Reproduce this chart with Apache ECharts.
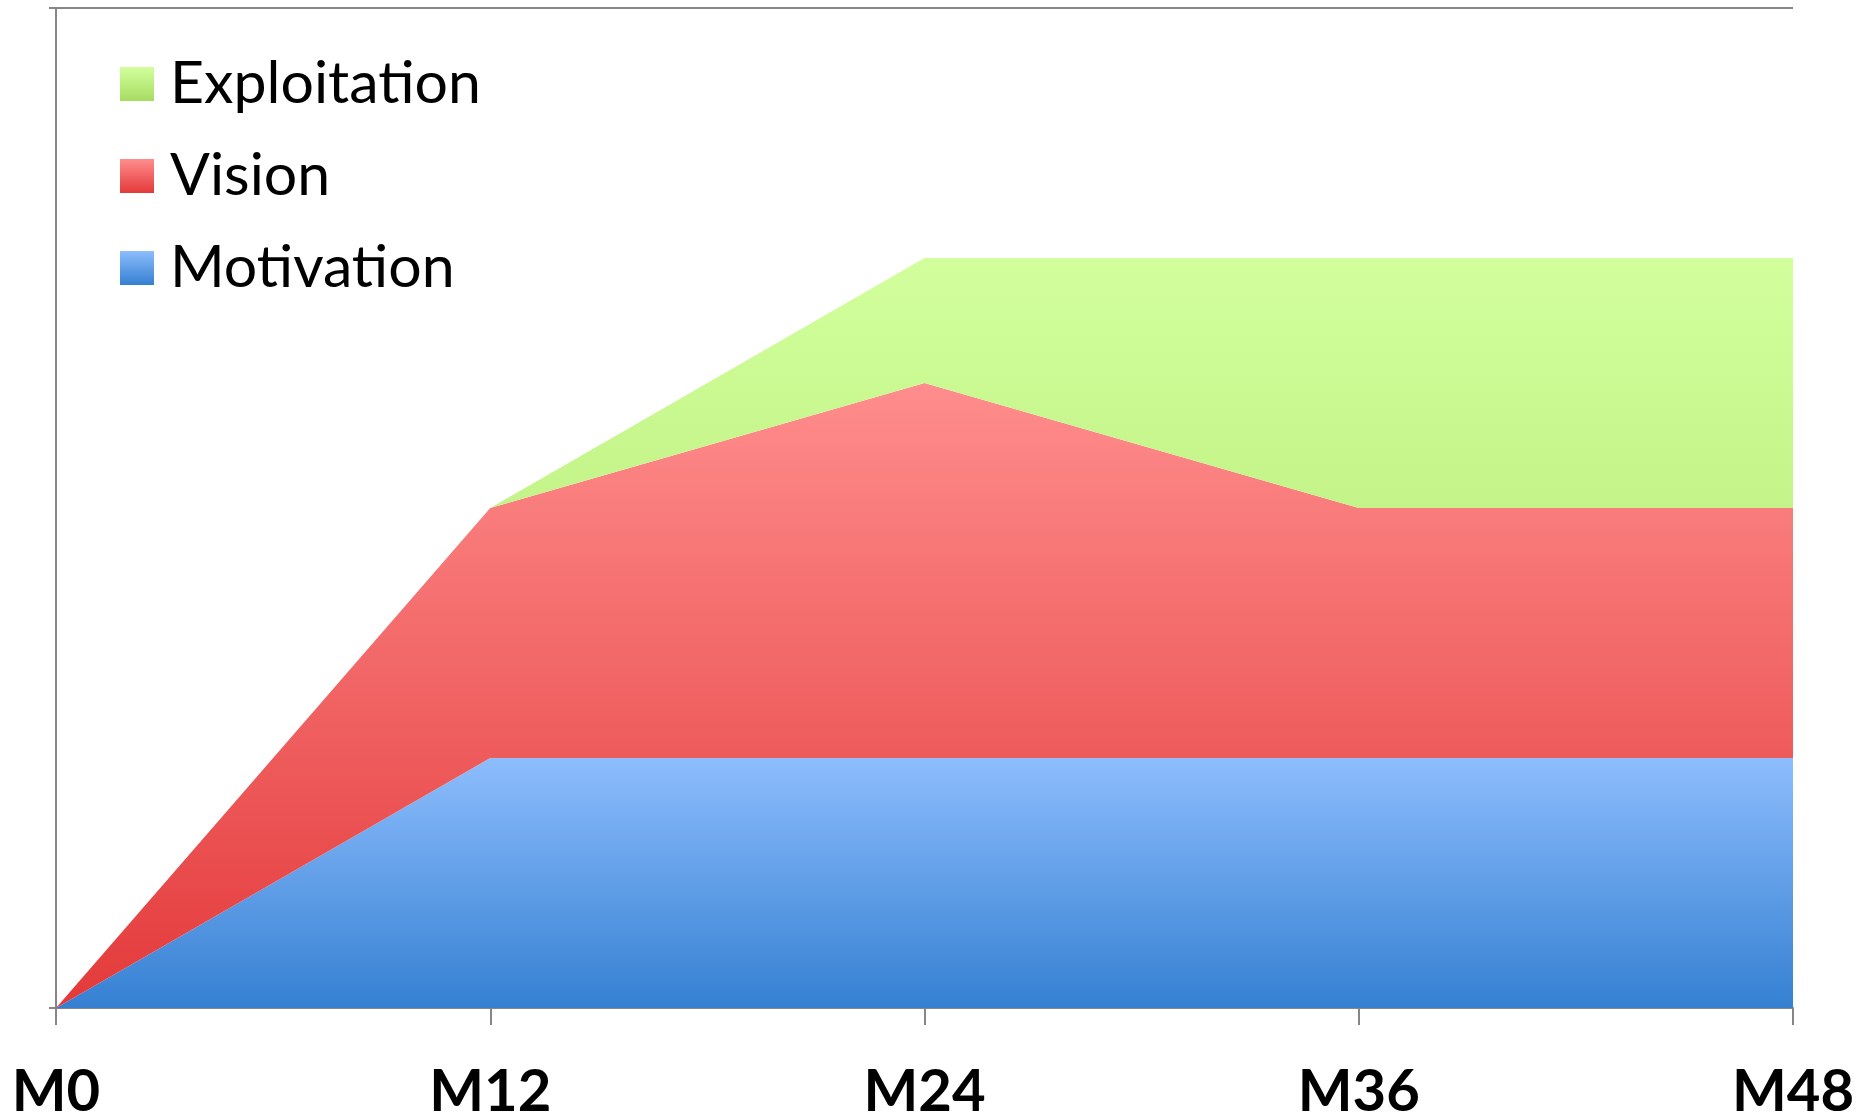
<!DOCTYPE html>
<html>
<head>
<meta charset="utf-8">
<script src="https://cdn.jsdelivr.net/npm/echarts@6/dist/echarts.min.js"></script>
<style>html,body{margin:0;padding:0;background:#fff}#c{width:1870px;height:1119px}</style>
</head>
<body>
<div id="c"></div>
<script>
const categories = ['M0', 'M12', 'M24', 'M36', 'M48'];
const motivation = [0, 1, 1, 1, 1];
const vision = [0, 1, 1.5, 1, 1];
const exploitation = [0, 0, 0.5, 1, 1];
const legendOrder = ['Exploitation', 'Vision', 'Motivation'];

const chart = echarts.init(document.getElementById('c'));
function grad(top, bottom) {
  return new echarts.graphic.LinearGradient(0, 0, 0, 1, [
    { offset: 0, color: top }, { offset: 1, color: bottom }
  ]);
}
const axisGray = '#868686';
function mk(name, data, top, bottom) {
  return {
    name: name, type: 'line', stack: 'total', data: data,
    symbol: 'none', showSymbol: false,
    lineStyle: { width: 0 },
    itemStyle: { color: grad(top, bottom) },
    areaStyle: { color: grad(top, bottom), opacity: 1 },
    emphasis: { disabled: true }
  };
}
chart.setOption({
  animation: false,
  backgroundColor: '#ffffff',
  textStyle: { fontFamily: 'Lato' },
  grid: { left: 56, right: 77, top: 8, bottom: 111, containLabel: false, outerBoundsMode: 'none' },
  legend: {
    data: legendOrder,
    orient: 'vertical', left: 120, top: 54, padding: 0,
    itemWidth: 34, itemHeight: 34, itemGap: 32,
    icon: 'rect',
    textStyle: { fontSize: 59, lineHeight: 60, color: '#000', fontFamily: 'Lato', padding: [0, 0, 0, 11] }
  },
  xAxis: {
    type: 'category', data: categories, boundaryGap: false,
    axisLine: { lineStyle: { color: axisGray, width: 2 } },
    axisTick: { show: true, length: 17, lineStyle: { color: axisGray, width: 2 } },
    axisLabel: { fontSize: 58, fontWeight: 'bold', color: '#000', margin: 55, fontFamily: 'Lato' },
    splitLine: { show: false }
  },
  yAxis: {
    type: 'value', min: 0, max: 4, interval: 4,
    axisLine: { show: true, lineStyle: { color: axisGray, width: 2 } },
    axisTick: { show: true, length: 7, lineStyle: { color: axisGray, width: 2 } },
    axisLabel: { show: false },
    splitLine: { show: true, lineStyle: { color: axisGray, width: 2 } }
  },
  series: [
    mk('Motivation', motivation, '#8dbdfd', '#3580d2'),
    mk('Vision', vision, '#ff8d8d', '#e3393a'),
    mk('Exploitation', exploitation, '#d2ff9c', '#a6dc62')
  ]
});
</script>
</body>
</html>
